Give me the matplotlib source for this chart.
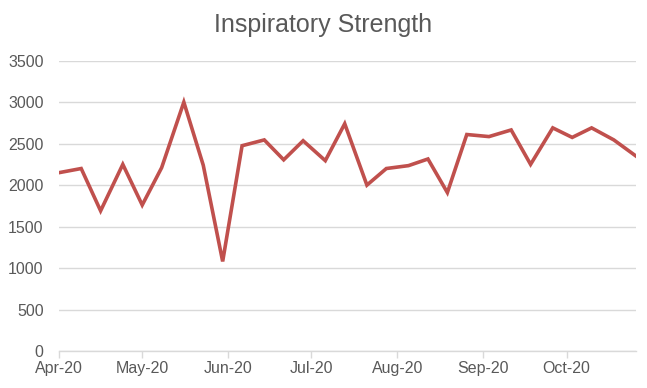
import matplotlib
matplotlib.use('Agg')
import matplotlib.pyplot as plt
import matplotlib.dates as mdates
import numpy as np
from datetime import date

# weekly readings (dates)
dates = ['2020-04-01', '2020-04-09', '2020-04-16', '2020-04-24', '2020-05-01',
         '2020-05-08', '2020-05-16', '2020-05-23', '2020-05-30', '2020-06-06',
         '2020-06-14', '2020-06-21', '2020-06-28', '2020-07-06', '2020-07-13',
         '2020-07-21', '2020-07-28', '2020-08-05', '2020-08-12', '2020-08-19',
         '2020-08-26', '2020-09-03', '2020-09-11', '2020-09-18', '2020-09-26',
         '2020-10-03', '2020-10-10', '2020-10-18', '2020-10-26']
strength = [2150, 2200, 1690, 2250, 1760, 2210, 3000, 2240, 1080, 2475,
            2545, 2305, 2535, 2295, 2740, 2000, 2200, 2235, 2315, 1910,
            2610, 2585, 2665, 2250, 2690, 2575, 2690, 2545, 2350]
month_ticks = ['2020-04-01', '2020-05-01', '2020-06-01', '2020-07-01',
               '2020-08-01', '2020-09-01', '2020-10-01']

x = [date.fromisoformat(d) for d in dates]
xt = [date.fromisoformat(d) for d in month_ticks]

plt.rcParams['font.family'] = ['Liberation Sans', 'DejaVu Sans']
txt = '#595959'
grid = '#d9d9d9'

fig = plt.figure(figsize=(6.47, 3.88), dpi=100)
ax = fig.add_axes([59/647, 1-351/388, (636-59)/647, (351-60.7)/388])

ax.plot(x, strength, color='#c0504d', linewidth=2.6, solid_joinstyle='miter', zorder=3)

ax.set_ylim(0, 3500)
ax.set_yticks(np.arange(0, 3501, 500))
ax.set_xlim(x[0], x[-1])
ax.set_xticks(xt)
ax.xaxis.set_major_formatter(mdates.DateFormatter('%b-%y'))

ax.grid(axis='y', color=grid, linewidth=1.0, zorder=0)
for s in ['top', 'right', 'left']:
    ax.spines[s].set_visible(False)
ax.spines['bottom'].set_color(grid)
ax.spines['bottom'].set_linewidth(1.0)
ax.tick_params(axis='y', length=0, pad=11, labelsize=11.5, labelcolor=txt)
ax.tick_params(axis='x', length=5, width=1.0, color=grid, pad=2, labelsize=11.5, labelcolor=txt)

fig.text(0.5, 1 - 32/388, 'Inspiratory Strength', ha='center', va='baseline',
         fontsize=18, color=txt)

plt.savefig('out.png', dpi=100)
